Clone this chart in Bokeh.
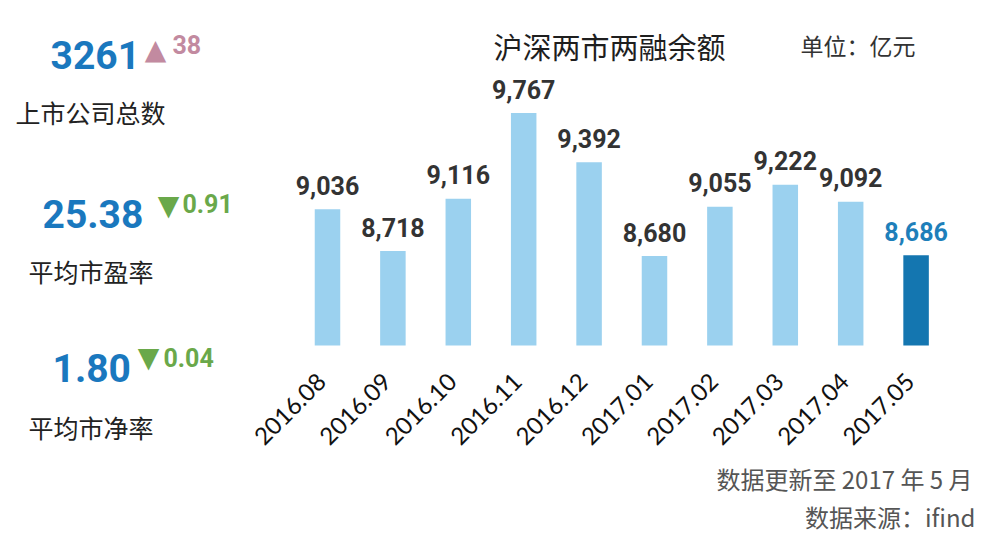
import math
from bokeh.plotting import figure
from bokeh.models import Range1d
from bokeh.core.properties import value
from bokeh.embed import file_html
from bokeh.resources import INLINE

# ---------------- data ----------------
months = ["2016.08", "2016.09", "2016.10", "2016.11", "2016.12",
          "2017.01", "2017.02", "2017.03", "2017.04", "2017.05"]
balance = [9036, 8718, 9116, 9767, 9392, 8680, 9055, 9222, 9092, 8686]
baseline = 8000

stat_values = ["3261", "25.38", "1.80"]
stat_changes = ["38", "0.91", "0.04"]
stat_arrows = ["▲", "▼", "▼"]
stat_names = ["上市公司总数", "平均市盈率", "平均市净率"]

title_text = "沪深两市两融余额"
unit_text = "单位：亿元"
footer_update = "数据更新至 2017 年 5 月"
footer_source = "数据来源：ifind"

# ---------------- styles ----------------
NUMF = value("Roboto, 'Liberation Sans', sans-serif")
CJK = value("'Noto Sans CJK SC', sans-serif")
LATIN = value("Lato, 'Noto Sans', sans-serif")
SYM = value("'DejaVu Sans', sans-serif")

BLUE_NUM = "#1A78BE"
PINK = "#C28AA0"
GREEN = "#6AA84A"
LIGHT_BAR = "#9BD1EF"
DARK_BAR = "#1476B0"
DARK_LABEL = "#1E7FBA"

n = len(months)
idx = list(range(n))

p = figure(width=987, height=539, output_backend="svg", toolbar_location=None,
           x_range=Range1d(-5.0, 10.092), y_range=Range1d(6526, 10622),
           x_axis_type=None, y_axis_type=None, min_border=0)
p.outline_line_color = None
p.grid.visible = False
p.background_fill_color = "white"
p.border_fill_color = "white"
p.extra_x_ranges = {"px": Range1d(0, 987)}
p.extra_y_ranges = {"px": Range1d(539, 0)}

bar_colors = [LIGHT_BAR] * (n - 1) + [DARK_BAR]
label_colors = ["#333333"] * (n - 1) + [DARK_LABEL]

p.vbar(x=idx, top=balance, bottom=baseline, width=0.39,
       fill_color=bar_colors, line_color=None)

p.text(x=idx, y=balance, text=[f"{v:,}" for v in balance],
       text_align="center", text_baseline="middle", y_offset=-24,
       text_font=NUMF, text_font_style="bold", text_font_size="25px",
       text_color=label_colors)

# category labels (rotated)
p.text(x=idx, y=[377] * n, y_range_name="px", text=months, x_offset=-6,
       angle=math.pi / 4, text_align="right", text_baseline="middle",
       text_font=LATIN, text_font_size="24px", text_color="#111111")

# title + unit
p.text(x=[493], y=[45], x_range_name="px", y_range_name="px", text=[title_text],
       text_align="left", text_baseline="middle", text_font=CJK,
       text_font_size="29px", text_color="#1e1e1e")
p.text(x=[800], y=[44], x_range_name="px", y_range_name="px", text=[unit_text],
       text_align="left", text_baseline="middle", text_font=CJK,
       text_font_size="23px", text_color="#333333")

# left panel
val_x = [50, 42, 52]
val_y = [54, 213, 367]
val_size = ["39px", "39px", "39px"]
arr_x = [155, 168, 148]
arr_y = [49, 205, 357]
chg_x = [172, 182, 163]
chg_y = [44, 203, 357]
name_x = [15, 28, 28]
name_y = [111, 270, 426]
chg_colors = [PINK, GREEN, GREEN]
for i in range(3):
    p.text(x=[val_x[i]], y=[val_y[i]], x_range_name="px", y_range_name="px",
           text=[stat_values[i]], text_align="left", text_baseline="middle",
           text_font=NUMF, text_font_style="bold", text_font_size=val_size[i],
           text_color=BLUE_NUM)
    p.text(x=[arr_x[i]], y=[arr_y[i]], x_range_name="px", y_range_name="px",
           text=[stat_arrows[i]], text_align="center", text_baseline="middle",
           text_font=SYM, text_font_size="28px", text_color=chg_colors[i])
    p.text(x=[chg_x[i]], y=[chg_y[i]], x_range_name="px", y_range_name="px",
           text=[stat_changes[i]], text_align="left", text_baseline="middle",
           text_font=NUMF, text_font_style="bold", text_font_size="25px",
           text_color=chg_colors[i])
    p.text(x=[name_x[i]], y=[name_y[i]], x_range_name="px", y_range_name="px",
           text=[stat_names[i]], text_align="left", text_baseline="middle",
           text_font=CJK, text_font_size="25px", text_color="#222222")

# footer
p.text(x=[972], y=[478], x_range_name="px", y_range_name="px", text=[footer_update],
       text_align="right", text_baseline="middle", text_font=CJK,
       text_font_size="24px", text_color="#555555")
p.text(x=[975], y=[516], x_range_name="px", y_range_name="px", text=[footer_source],
       text_align="right", text_baseline="middle", text_font=CJK,
       text_font_size="24px", text_color="#555555")

open("out.html", "w").write(file_html(p, INLINE))
